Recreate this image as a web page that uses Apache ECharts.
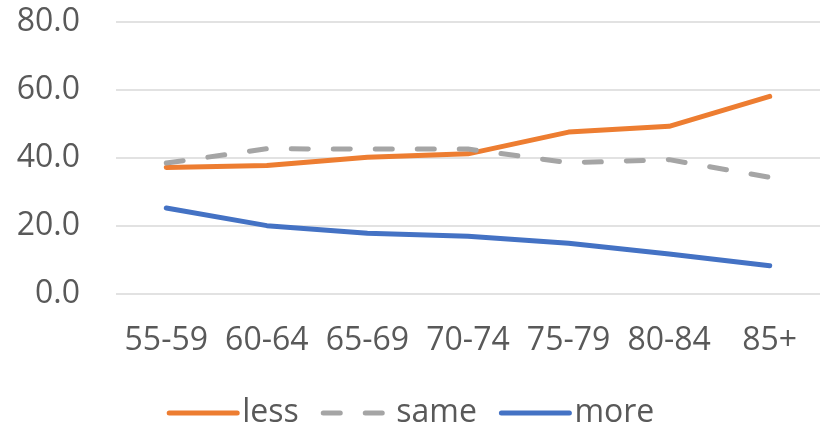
<!DOCTYPE html>
<html>
<head>
<meta charset="utf-8">
<script src="https://cdn.jsdelivr.net/npm/echarts@6/dist/echarts.min.js"></script>
<style>
html,body{margin:0;padding:0;background:#fff;}
#c{width:821px;height:426px;}
</style>
</head>
<body>
<div id="c"></div>
<script>
const categories = ['55-59','60-64','65-69','70-74','75-79','80-84','85+'];
const lessValues = [37.1, 37.7, 40.1, 41.1, 47.5, 49.2, 58.0];
const sameValues = [38.4, 42.6, 42.5, 42.5, 38.5, 39.4, 34.2];
const moreValues = [25.2, 20.0, 17.8, 16.9, 14.8, 11.7, 8.2];
const yTicks = {min: 0, max: 80, interval: 20};

const font = 'Open Sans';
const txt = '#595959';
const chart = echarts.init(document.getElementById('c'), null, {renderer: 'canvas'});
chart.setOption({
  animation: false,
  backgroundColor: '#ffffff',
  grid: {left: 116, right: 1, top: 21.5, bottom: 132.3, containLabel: false},
  xAxis: {
    type: 'category',
    data: categories,
    boundaryGap: true,
    axisLine: {show: false},
    axisTick: {show: false},
    axisLabel: {color: txt, fontFamily: font, fontSize: 32, margin: 31, interval: 0}
  },
  yAxis: {
    type: 'value',
    min: yTicks.min, max: yTicks.max, interval: yTicks.interval,
    axisLine: {show: false},
    axisTick: {show: false},
    splitLine: {lineStyle: {color: '#D9D9D9', width: 1.5}},
    axisLabel: {color: txt, fontFamily: font, fontSize: 32, margin: 36,
      formatter: v => v.toFixed(1)}
  },
  legend: {
    bottom: -8,
    left: 'center',
    itemWidth: 68,
    itemHeight: 14,
    itemGap: 22,
    itemStyle: {opacity: 0},
    lineStyle: {width: 5, cap: 'round'},
    textStyle: {color: txt, fontFamily: font, fontSize: 32},
    data: ['less','same','more']
  },
  series: [
    {name: 'less', type: 'line', data: lessValues, symbol: 'none',
      lineStyle: {color: '#ED7D31', width: 5, cap: 'round', join: 'round'},
      itemStyle: {color: '#ED7D31'}},
    {name: 'same', type: 'line', data: sameValues, symbol: 'none',
      lineStyle: {color: '#A5A5A5', width: 5, type: [17, 25], cap: 'round', join: 'round'},
      itemStyle: {color: '#A5A5A5'}},
    {name: 'more', type: 'line', data: moreValues, symbol: 'none',
      lineStyle: {color: '#4472C4', width: 5, cap: 'round', join: 'round'},
      itemStyle: {color: '#4472C4'}}
  ]
});
</script>
</body>
</html>
